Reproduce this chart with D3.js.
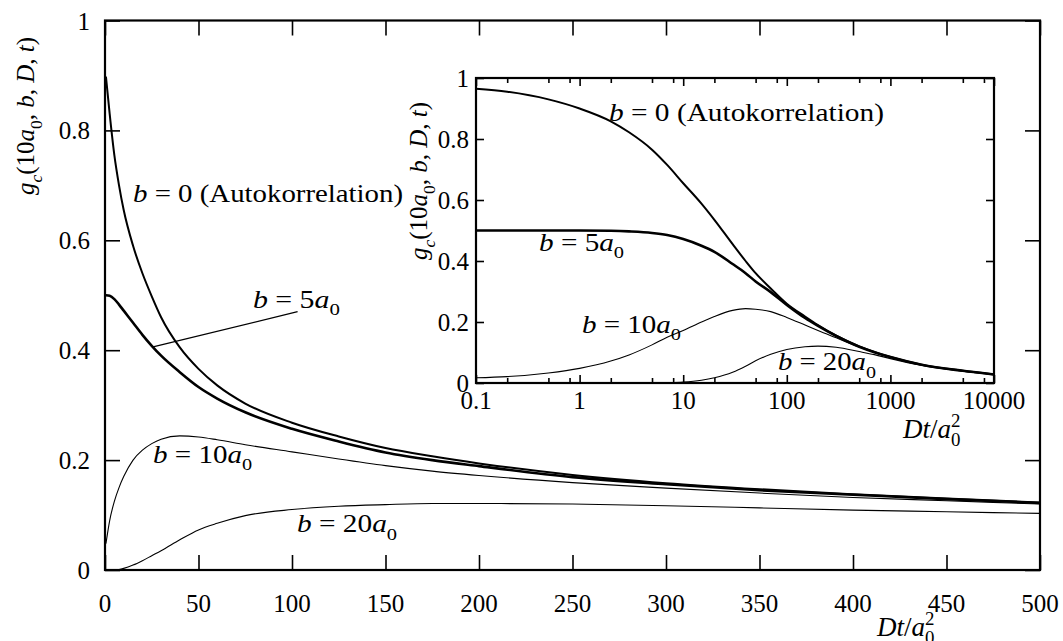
<!DOCTYPE html>
<html><head><meta charset="utf-8">
<script src="https://cdn.jsdelivr.net/npm/d3@7"></script>
<style>
html,body{margin:0;padding:0;background:#fff;}
svg{display:block;}
svg text{font-family:"Liberation Serif","Times New Roman",Times,"DejaVu Serif","Noto Serif",FreeSerif,serif;}
</style></head>
<body>
<svg id="chart" width="1063" height="641"></svg>
<script>
// ---------- data ----------
// main plot: linear time axis Dt/a0^2
const mainT   = [0.5, 2.5, 5, 7.5, 10, 15, 20, 25, 30, 40, 50, 60, 75, 100, 125, 150, 175, 200, 250, 300, 350, 400, 450, 500];
const mainB0  = [0.898, 0.83, 0.755, 0.70, 0.655, 0.59, 0.54, 0.498, 0.46, 0.405, 0.366, 0.336, 0.303, 0.268, 0.243, 0.222, 0.207, 0.194, 0.173, 0.158, 0.147, 0.138, 0.130, 0.123];
const mainB5  = [0.500, 0.499, 0.493, 0.483, 0.472, 0.450, 0.428, 0.408, 0.390, 0.360, 0.333, 0.312, 0.287, 0.257, 0.234, 0.214, 0.200, 0.189, 0.169, 0.156, 0.145, 0.137, 0.129, 0.122];
const mainB10 = [0.048, 0.090, 0.125, 0.150, 0.170, 0.200, 0.218, 0.230, 0.238, 0.244, 0.242, 0.237, 0.228, 0.215, 0.202, 0.190, 0.180, 0.172, 0.159, 0.149, 0.140, 0.132, 0.126, 0.120];
const mainB20 = [0, 0, 0, 0.001, 0.003, 0.009, 0.017, 0.026, 0.035, 0.055, 0.073, 0.085, 0.099, 0.110, 0.116, 0.119, 0.121, 0.121, 0.120, 0.117, 0.113, 0.109, 0.106, 0.103];
// inset: logarithmic time axis
const insetT   = [0.1, 0.2, 0.5, 1, 2, 3, 5, 7, 10, 15, 20, 30, 40, 50, 70, 100, 150, 200, 300, 500, 700, 1000, 2000, 5000, 10000];
const insetB0  = [0.965, 0.955, 0.93, 0.9, 0.858, 0.822, 0.765, 0.715, 0.655, 0.588, 0.535, 0.455, 0.40, 0.36, 0.31, 0.26, 0.218, 0.19, 0.155, 0.12, 0.102, 0.085, 0.06, 0.04, 0.028];
const insetB5  = [0.5, 0.5, 0.5, 0.5, 0.499, 0.497, 0.492, 0.485, 0.472, 0.45, 0.43, 0.39, 0.36, 0.333, 0.298, 0.256, 0.213, 0.187, 0.154, 0.119, 0.101, 0.085, 0.06, 0.04, 0.028];
const insetB10 = [0.017, 0.021, 0.033, 0.048, 0.072, 0.092, 0.125, 0.15, 0.172, 0.2, 0.218, 0.238, 0.244, 0.242, 0.234, 0.215, 0.19, 0.172, 0.148, 0.118, 0.1, 0.084, 0.06, 0.04, 0.028];
const insetB20 = [0, 0, 0, 0, 0, 0, 0, 0.001, 0.003, 0.009, 0.017, 0.035, 0.055, 0.073, 0.094, 0.11, 0.119, 0.121, 0.117, 0.103, 0.093, 0.08, 0.058, 0.039, 0.028];
// ticks
const mainXTicks  = [0, 50, 100, 150, 200, 250, 300, 350, 400, 450, 500];
const mainYTicks  = [0, 0.2, 0.4, 0.6, 0.8, 1];
const mainYLabels = ["0", "0.2", "0.4", "0.6", "0.8", "1"];
const insetXTicks  = [0.1, 1, 10, 100, 1000, 10000];
const insetXLabels = ["0.1", "1", "10", "100", "1000", "10000"];
const insetXMinor  = [0.2, 0.5, 0.8, 2, 5, 8, 20, 50, 80, 200, 500, 800, 2000, 5000, 8000];
const insetYTicks  = [0, 0.2, 0.4, 0.6, 0.8, 1];
const insetYLabels = ["0", "0.2", "0.4", "0.6", "0.8", "1"];
// annotation leader line for b = 5a0 (data coords: [x, y])
const leader = [[103, 0.47], [25.7, 0.406]];

// ---------- drawing ----------
const svg = d3.select("#chart");
const FS = 25;

function addMath(sel, parts, fs) {
  let shift = 0;
  parts.forEach(p => {
    const ts = sel.append("tspan").text(p.t);
    let target = 0, size = fs;
    if (p.sub) { target = fs * 0.3; size = fs * 0.7; }
    if (p.sup) { target = -fs * 0.42; size = fs * 0.7; }
    ts.attr("dy", target - shift).attr("font-size", size);
    if (p.i) ts.attr("font-style", "italic");
    if (p.dx !== undefined) ts.attr("dx", p.dx);
    shift = target;
  });
  return sel;
}
function mathLabel(parent, x, y, parts, len) {
  const t = parent.append("text").attr("x", x).attr("y", y).attr("font-size", FS);
  addMath(t, parts, FS);
  if (len) t.attr("textLength", len).attr("lengthAdjust", "spacingAndGlyphs");
  return t;
}

const ylabParts = [
  {t: "g", i: true}, {t: "c", i: true, sub: true}, {t: "(10"}, {t: "a", i: true}, {t: "0", sub: true},
  {t: ", "}, {t: "b", i: true}, {t: ", "}, {t: "D", i: true}, {t: ", "}, {t: "t", i: true}, {t: ")"}
];
const xlabParts = [
  {t: "Dt", i: true}, {t: "/"}, {t: "a", i: true}, {t: "2", sup: true}, {t: "0", sub: true, dx: -9.5}
];
const lab0 = [{t: "b", i: true}, {t: " = 0 (Autokorrelation)"}];
const lab5 = [{t: "b", i: true}, {t: " = 5"}, {t: "a", i: true}, {t: "0", sub: true}];
const lab10 = [{t: "b", i: true}, {t: " = 10"}, {t: "a", i: true}, {t: "0", sub: true}];
const lab20 = [{t: "b", i: true}, {t: " = 20"}, {t: "a", i: true}, {t: "0", sub: true}];

function drawPanel(g, cfg) {
  const {x, y, series, xTicks, xLabels, xMinor, yTicks, yLabels, tick, minor, xLabY, yLabX} = cfg;
  const [x0, x1] = x.range(), [y0, y1] = y.range();
  g.append("rect").attr("x", x0).attr("y", y1).attr("width", x1 - x0).attr("height", y0 - y1)
    .attr("fill", "#fff").attr("stroke", "none");

  series.forEach(s => {
    const line = d3.line().x(d => x(d[0])).y(d => y(d[1])).curve(d3.curveMonotoneX);
    g.append("path").datum(s.t.map((t, i) => [t, s.v[i]]))
      .attr("d", line).attr("fill", "none").attr("stroke", "#000")
      .attr("stroke-width", s.w).attr("stroke-linejoin", "round");
  });

  const add = (ax, tr) => {
    const a = g.append("g").attr("transform", tr).call(ax);
    a.select(".domain").remove();
    a.selectAll("line").attr("stroke", "#000").attr("stroke-width", 1.6);
    return a;
  };
  add(d3.axisBottom(x).tickValues(xTicks).tickSize(-tick).tickFormat(""), `translate(0,${y0})`);
  add(d3.axisTop(x).tickValues(xTicks).tickSize(-tick).tickFormat(""), `translate(0,${y1})`);
  add(d3.axisLeft(y).tickValues(yTicks).tickSize(-tick).tickFormat(""), `translate(${x0},0)`);
  add(d3.axisRight(y).tickValues(yTicks).tickSize(-tick).tickFormat(""), `translate(${x1},0)`);
  if (xMinor) {
    add(d3.axisBottom(x).tickValues(xMinor).tickSize(-minor).tickFormat(""), `translate(0,${y0})`);
    add(d3.axisTop(x).tickValues(xMinor).tickSize(-minor).tickFormat(""), `translate(0,${y1})`);
  }
  g.append("rect").attr("x", x0).attr("y", y1).attr("width", x1 - x0).attr("height", y0 - y1)
    .attr("fill", "none").attr("stroke", "#000").attr("stroke-width", 2.2);

  g.append("g").selectAll("text").data(xTicks).join("text")
    .attr("x", d => x(d)).attr("y", xLabY).attr("text-anchor", "middle")
    .attr("font-size", FS).text((d, i) => xLabels[i]);
  g.append("g").selectAll("text").data(yTicks).join("text")
    .attr("x", yLabX).attr("y", d => y(d) + 9).attr("text-anchor", "end")
    .attr("font-size", FS).text((d, i) => yLabels[i]);
}

// main plot
const xM = d3.scaleLinear().domain([0, 500]).range([105, 1040]);
const yM = d3.scaleLinear().domain([0, 1]).range([570, 20.5]);
const gMain = svg.append("g");
drawPanel(gMain, {
  x: xM, y: yM,
  series: [
    {t: mainT, v: mainB20, w: 1.1},
    {t: mainT, v: mainB10, w: 1.1},
    {t: mainT, v: mainB5, w: 2.6},
    {t: mainT, v: mainB0, w: 2.0}
  ],
  xTicks: mainXTicks, xLabels: mainXTicks.map(String), yTicks: mainYTicks, yLabels: mainYLabels,
  tick: 15, xLabY: 612, yLabX: 90
});
gMain.append("line")
  .attr("x1", xM(leader[0][0])).attr("y1", yM(leader[0][1]))
  .attr("x2", xM(leader[1][0])).attr("y2", yM(leader[1][1]))
  .attr("stroke", "#000").attr("stroke-width", 1.3);
mathLabel(gMain, xM(15), yM(0.67), lab0, 270);
mathLabel(gMain, xM(79.1), yM(0.477), lab5, 87);
mathLabel(gMain, xM(25.7), yM(0.195), lab10, 99);
mathLabel(gMain, xM(102.7), yM(0.069), lab20, 100);
addMath(gMain.append("text").attr("transform", "translate(34,116) rotate(-90)")
  .attr("text-anchor", "middle").attr("font-size", FS), ylabParts, FS);
addMath(gMain.append("text").attr("x", 877).attr("y", 636).attr("font-size", 27), xlabParts, 27);

// inset
const xI = d3.scaleLog().domain([0.1, 10000]).range([476, 994]);
const yI = d3.scaleLinear().domain([0, 1]).range([383, 78]);
const gIn = svg.append("g");
drawPanel(gIn, {
  x: xI, y: yI,
  series: [
    {t: insetT, v: insetB20, w: 1.1},
    {t: insetT, v: insetB10, w: 1.1},
    {t: insetT, v: insetB5, w: 2.6},
    {t: insetT, v: insetB0, w: 2.0}
  ],
  xTicks: insetXTicks, xLabels: insetXLabels, xMinor: insetXMinor,
  yTicks: insetYTicks, yLabels: insetYLabels,
  tick: 8, minor: 5, xLabY: 409, yLabX: 469
});
mathLabel(gIn, xI(1.92), yI(0.859), lab0, 275);
mathLabel(gIn, xI(0.406), yI(0.433), lab5, 85);
mathLabel(gIn, xI(1.055), yI(0.164), lab10, 99);
mathLabel(gIn, xI(82.2), yI(0.0426), lab20, 98);
addMath(gIn.append("text").attr("transform", "translate(427,181) rotate(-90)")
  .attr("text-anchor", "middle").attr("font-size", FS), ylabParts, FS);
addMath(gIn.append("text").attr("x", 903).attr("y", 438).attr("font-size", 27), xlabParts, 27);
</script>
</body></html>
